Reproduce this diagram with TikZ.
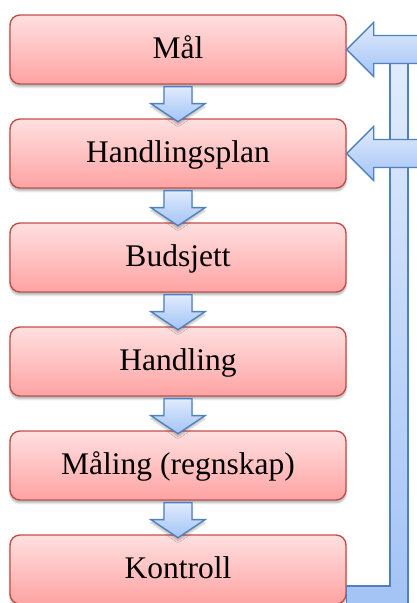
\documentclass[tikz,border=0pt]{standalone}
\usepackage{fontspec}
\setmainfont{Liberation Serif}
\usetikzlibrary{shadows.blur}
\definecolor{boxtop}{HTML}{FFE0E0}
\definecolor{boxbot}{HTML}{FFA3A3}
\definecolor{boxline}{HTML}{C0504D}
\definecolor{arrtop}{HTML}{E0EBFD}
\definecolor{arrbot}{HTML}{A3C3F5}
\definecolor{arrline}{HTML}{4F81BD}
\tikzset{
  stepbox/.style={rounded corners=10pt, draw=boxline, line width=1.4pt,
    top color=boxtop, bottom color=boxbot, minimum width=336pt, minimum height=69pt,
    inner sep=0pt, text height=19pt, text depth=0pt,
    font=\fontsize{31.5}{36}\selectfont,
    blur shadow={shadow xshift=0pt, shadow yshift=-3pt, shadow blur steps=6, shadow opacity=30}},
  blockarrow/.style={draw=arrline, line width=1.4pt, line join=miter,
    top color=arrtop, bottom color=arrbot,
    blur shadow={shadow xshift=0pt, shadow yshift=-3pt, shadow blur steps=5, shadow opacity=25}},
  feedback/.style={draw=arrline, line width=1.4pt, line join=miter,
    top color=arrtop, bottom color=arrbot}
}
% downward block arrow hanging below the given anchor
\newcommand\stepdown[1]{%
  \path[blockarrow, shift={(#1)}]
    (-14,-2) -- (14,-2) -- (14,-19) -- (27,-19) -- (0,-37) -- (-27,-19) -- (-14,-19) -- cycle;}
% left-pointing block arrow with its tip at the given anchor
\newcommand\stepback[1]{%
  \path[feedback, shift={(#1)}]
    (0,0) -- (27,27) -- (27,14) -- (80,14) -- (80,-14) -- (27,-14) -- (27,-27) -- cycle;}
\begin{document}
\begin{tikzpicture}[x=1pt, y=1pt]
  \useasboundingbox (0,0) rectangle (417,603);
  \begin{scope}
    \clip (0,0) rectangle (417,603);
    % process steps, top to bottom
    \node[stepbox] (b1) at (178,553.5) {Mål};
    \node[stepbox] (b2) at (178,449.5) {Handlingsplan};
    \node[stepbox] (b3) at (178,345.5) {Budsjett};
    \node[stepbox] (b4) at (178,241.5) {Handling};
    \node[stepbox] (b5) at (178,137.5) {Måling (regnskap)};
    \node[stepbox] (b6) at (178,33.5) {Kontroll};
    % arrows between consecutive steps
    \stepdown{b1.south}
    \stepdown{b2.south}
    \stepdown{b3.south}
    \stepdown{b4.south}
    \stepdown{b5.south}
    % feedback bar running from the last step back up
    \path[feedback, top color=arrtop!90!white, bottom color=arrbot]
      (b6.east |- 0,17) -- (390,17) -- (390,566) -- (408,566) -- (408,-6) -- (b6.east |- 0,-6) -- cycle;
    % feedback arrows into the first two steps
    \stepback{b1.east}
    \stepback{b2.east}
  \end{scope}
\end{tikzpicture}
\end{document}
